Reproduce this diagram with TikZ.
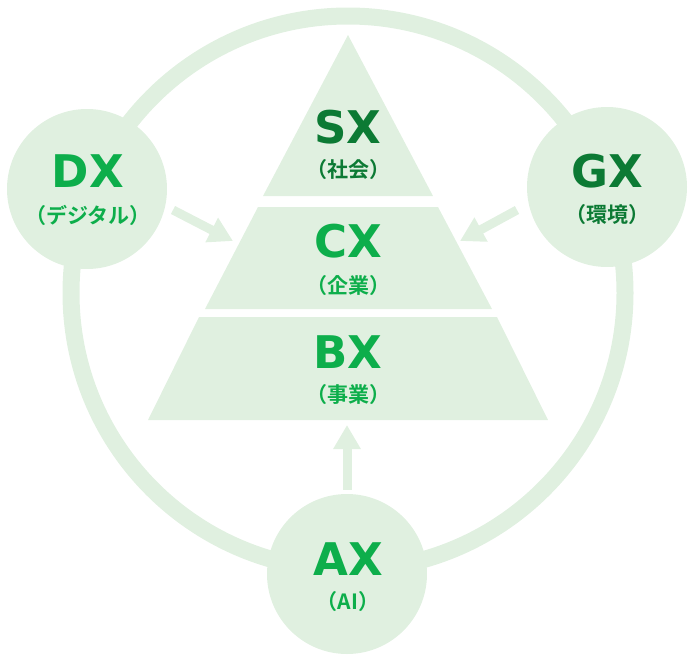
\documentclass[tikz,border=0pt]{standalone}
\usepackage{fontspec}
\setmainfont{DejaVu Sans}
\newfontfamily\cjk{Noto Sans CJK JP}[BoldFont={Noto Sans CJK JP Bold}]
\usetikzlibrary{arrows.meta}
\definecolor{lightg}{HTML}{E0F0E0}
\definecolor{brightg}{HTML}{0DAE4B}
\definecolor{darkg}{HTML}{0C7A34}
\tikzset{
  bubble/.style={circle,fill=lightg,minimum size=160pt,inner sep=0pt},
  layer/.style={fill=lightg},
  ring/.style={draw=lightg,line width=17pt},
  flow/.style={draw=lightg,line width=9pt,-{Triangle[width=26pt,length=24pt]}},
  title/.style={font=\fontsize{45}{45}\selectfont\bfseries,inner sep=0pt,anchor=center},
  sub/.style={font=\cjk\fontsize{21}{21}\selectfont\bfseries,inner sep=0pt,anchor=center}
}
\begin{document}
\begin{tikzpicture}[x=1pt,y=-1pt]
\useasboundingbox (0,0) rectangle (688,656);
% outer ring
\draw[ring] (348,293) circle (277);
% pyramid layers
\fill[layer] (348,35) -- (433,196) -- (263,196) -- cycle;
\fill[layer] (258,207) -- (438,207) -- (492,309) -- (205,309) -- cycle;
\fill[layer] (199,317) -- (497,317) -- (548,420) -- (148,420) -- cycle;
% bubbles
\node[bubble] (dx) at (87,189) {};
\node[bubble] (gx) at (607,187) {};
\node[bubble] (ax) at (347,574) {};
% arrows
\coordinate (dxs) at (173,210);
\coordinate (dxe) at (233,241);
\coordinate (gxs) at (517,210);
\coordinate (gxe) at (460,241);
\coordinate (axs) at (347,490);
\coordinate (axe) at (347,425);
\draw[flow] (dxs) -- (dxe);
\draw[flow] (gxs) -- (gxe);
\draw[flow] (axs) -- (axe);
% labels
\node[title,text=darkg] (sxt) at (348,127) {SX};
\node[sub,text=darkg] (sxs) at (348,170) {（社会）};
\node[title,text=brightg] (cxt) at (348,241) {CX};
\node[sub,text=brightg] (cxs) at (348,286) {（企業）};
\node[title,text=brightg] (bxt) at (348,352) {BX};
\node[sub,text=brightg] (bxs) at (348,395) {（事業）};
\node[title,text=brightg] (dxt) at (88,171) {DX};
\node[sub,text=brightg] (dxs2) at (88,215) {（デジタル）};
\node[title,text=darkg] (gxt) at (607,171) {GX};
\node[sub,text=darkg] (gxs2) at (607,215) {（環境）};
\node[title,text=brightg] (axt) at (348,559) {AX};
\node[sub,text=brightg] (axs2) at (348,602) {（AI）};
\end{tikzpicture}
\end{document}
